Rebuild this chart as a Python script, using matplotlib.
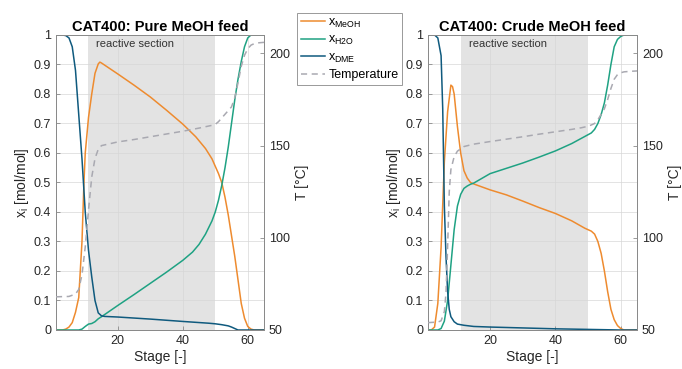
import numpy as np
import matplotlib.pyplot as plt

plt.rcParams['font.family'] = ['Liberation Sans', 'DejaVu Sans']
plt.rcParams['mathtext.fontset'] = 'custom'
plt.rcParams['mathtext.rm'] = 'Liberation Sans'
plt.rcParams['mathtext.it'] = 'Liberation Sans:italic'

# --- CAT400: pure MeOH feed ---
p_meoh_st = [1, 3, 4, 5, 6, 7, 8, 9, 9.6, 10, 11, 12, 13, 14, 14.5, 15, 20, 25, 30, 35, 40, 44, 47, 49, 50,
             51, 52, 53, 54, 55, 56, 57, 58, 59, 60, 61, 62, 65]
p_meoh = [0, 0, 0.003, 0.01, 0.025, 0.06, 0.11, 0.3, 0.5, 0.6, 0.72, 0.8, 0.87, 0.902, 0.908, 0.905, 0.868,
          0.83, 0.79, 0.745, 0.698, 0.655, 0.615, 0.58, 0.555, 0.53, 0.5, 0.45, 0.39, 0.32, 0.25, 0.17,
          0.09, 0.04, 0.012, 0.003, 0, 0]

p_h2o_st = [1, 8, 9, 10, 11, 12, 13, 14, 15, 20, 25, 30, 35, 40, 43, 45, 47, 49, 50, 51, 52, 53, 54, 55,
            56, 57, 58, 59, 60, 61, 65]
p_h2o = [0, 0, 0.003, 0.012, 0.02, 0.022, 0.028, 0.038, 0.045, 0.083, 0.12, 0.158, 0.196, 0.236, 0.264,
         0.29, 0.325, 0.37, 0.4, 0.44, 0.49, 0.55, 0.62, 0.7, 0.78, 0.85, 0.91, 0.96, 0.99, 1.0, 1.0]

p_dme_st = [1, 3, 4, 5, 6, 7, 8, 9, 10, 11, 12, 13, 14, 15, 16, 20, 30, 40, 48, 50, 52, 54, 55, 56, 57, 65]
p_dme = [1, 1, 0.998, 0.99, 0.96, 0.88, 0.73, 0.58, 0.4, 0.27, 0.18, 0.1, 0.058, 0.048, 0.046, 0.044,
         0.037, 0.029, 0.023, 0.021, 0.018, 0.014, 0.01, 0.005, 0, 0]

p_T_st = [1, 5, 7, 8, 9, 10, 11, 12, 13, 14, 15, 20, 25, 30, 35, 40, 45, 49, 50, 51, 52, 53, 54, 55, 56,
          57, 58, 59, 60, 61, 62, 63, 65]
p_T = [68, 68.2, 69.5, 72, 80, 95, 115, 133, 143, 148, 150, 152, 153.3, 154.8, 156.3, 157.8, 159.5, 161,
       161.5, 163, 165, 167, 169, 171, 176, 184, 193, 199, 202.5, 204.5, 205.3, 205.7, 206]

# --- CAT400: crude MeOH feed ---
c_meoh_st = [1, 2, 3, 4, 5, 6, 7, 8, 8.5, 9, 10, 11, 12, 13, 14, 15, 20, 25, 30, 35, 40, 45, 49, 50, 51,
             52, 53, 54, 55, 56, 57, 58, 59, 60, 61, 65]
c_meoh = [0, 0, 0.01, 0.09, 0.28, 0.57, 0.74, 0.83, 0.825, 0.8, 0.69, 0.6, 0.54, 0.515, 0.5, 0.495, 0.475,
          0.458, 0.437, 0.415, 0.395, 0.37, 0.345, 0.34, 0.335, 0.325, 0.3, 0.26, 0.2, 0.13, 0.07, 0.035,
          0.015, 0.005, 0, 0]

c_h2o_st = [1, 4, 5, 6, 7, 8, 9, 10, 11, 12, 13, 14, 15, 20, 25, 30, 35, 40, 45, 49, 50, 51, 52, 53, 54,
            55, 56, 57, 58, 59, 60, 61, 65]
c_h2o = [0, 0, 0.005, 0.03, 0.1, 0.22, 0.34, 0.42, 0.46, 0.48, 0.488, 0.494, 0.498, 0.53, 0.548, 0.566,
         0.586, 0.607, 0.632, 0.656, 0.662, 0.668, 0.68, 0.7, 0.73, 0.77, 0.83, 0.9, 0.96, 0.985, 0.995,
         1, 1]

c_dme_st = [1, 3, 4, 5, 5.5, 6, 6.5, 7, 7.5, 8, 9, 10, 12, 15, 20, 30, 40, 50, 55, 60, 65]
c_dme = [1, 1, 0.99, 0.93, 0.75, 0.42, 0.25, 0.13, 0.07, 0.045, 0.028, 0.02, 0.016, 0.012, 0.01, 0.007,
         0.004, 0.002, 0.001, 0, 0]

c_T_st = [1, 4, 5, 6, 6.5, 7, 7.5, 8, 9, 10, 12, 15, 20, 25, 30, 35, 40, 45, 48, 50, 51, 52, 53, 54, 55,
          56, 57, 58, 59, 60, 61, 63, 65]
c_T = [54, 54.3, 55, 60, 70, 95, 125, 137, 144, 147, 149.5, 150.8, 152.2, 153.5, 154.8, 156.2, 157.5,
       158.8, 159.7, 160.5, 161.2, 162, 164, 167, 170, 175, 181, 186, 188.5, 189.5, 190, 190.3, 190.5]

reactive = (11, 50)
titles = ['CAT400: Pure MeOH feed', 'CAT400: Crude MeOH feed']

c_meoh_col = '#EE8B2F'
c_h2o_col = '#1FA283'
c_dme_col = '#0F5A7E'
c_T_col = '#A9A9B1'
spine = '#8A8A8A'
txt = '#262626'

fig = plt.figure(figsize=(6.82, 3.69), dpi=100)
ax1 = fig.add_axes([0.0821, 0.1057, 0.3050, 0.7995])
ax2 = fig.add_axes([0.6276, 0.1057, 0.3065, 0.7995])

datasets = [
    (p_meoh_st, p_meoh, p_h2o_st, p_h2o, p_dme_st, p_dme, p_T_st, p_T),
    (c_meoh_st, c_meoh, c_h2o_st, c_h2o, c_dme_st, c_dme, c_T_st, c_T),
]

handles = None
for ax, d, title in zip([ax1, ax2], datasets, titles):
    ms, m, hs, h, ds, dd, ts, t = d
    ax.axvspan(reactive[0], reactive[1], color='#E3E3E3', lw=0, zorder=0)
    ax.grid(True, color='#D6D6D6', lw=0.6, alpha=0.8, zorder=1)
    l1, = ax.plot(ms, m, color=c_meoh_col, lw=1.1, zorder=3)
    l2, = ax.plot(hs, h, color=c_h2o_col, lw=1.1, zorder=3)
    l3, = ax.plot(ds, dd, color=c_dme_col, lw=1.1, zorder=3)
    ax.set_xlim(1, 65)
    ax.set_ylim(0, 1)
    ax.set_xticks([20, 40, 60])
    ax.set_yticks(np.arange(0, 1.01, 0.1))
    ax.set_yticklabels(['0', '0.1', '0.2', '0.3', '0.4', '0.5', '0.6', '0.7', '0.8', '0.9', '1'])
    ax.set_xlabel('Stage [-]', fontsize=10, color=txt, labelpad=2)
    ax.set_ylabel(r'x$_\mathrm{i}$ [mol/mol]', fontsize=10, color=txt, labelpad=2)
    ax.set_title(title, fontsize=10.5, fontweight='bold', color='black', pad=3)
    ax.text(13.4, 0.97, 'reactive section', fontsize=8, color='#333333', va='center', ha='left', zorder=4)
    ax.tick_params(direction='in', labelsize=9, colors=txt, length=3, width=0.6)
    ax.tick_params(axis='both', color=spine)
    for s in ax.spines.values():
        s.set_color(spine)
        s.set_linewidth(0.7)

    tx = ax.twinx()
    l4, = tx.plot(ts, t, color=c_T_col, lw=1.1, ls=(0, (4, 3)), zorder=3)
    tx.set_ylim(50, 210)
    tx.set_yticks([50, 100, 150, 200])
    tx.set_ylabel('T [°C]', fontsize=10, color=txt, labelpad=4)
    tx.tick_params(direction='in', labelsize=9, colors=txt, length=3, width=0.6)
    tx.tick_params(axis='y', color=spine)
    for s in tx.spines.values():
        s.set_color(spine)
        s.set_linewidth(0.7)
    handles = [l1, l2, l3, l4]

labels = [r'x$_\mathrm{MeOH}$', r'x$_\mathrm{H2O}$', r'x$_\mathrm{DME}$', 'Temperature']
leg = fig.legend(handles, labels, loc='upper left', bbox_to_anchor=(0.4355, 0.965), fontsize=9,
                 frameon=True, fancybox=False, edgecolor='#999999', framealpha=1, handlelength=1.9,
                 handletextpad=0.3, borderpad=0.3, labelspacing=0.35, borderaxespad=0)
leg.get_frame().set_linewidth(0.7)

fig.savefig('out.png', dpi=100)
